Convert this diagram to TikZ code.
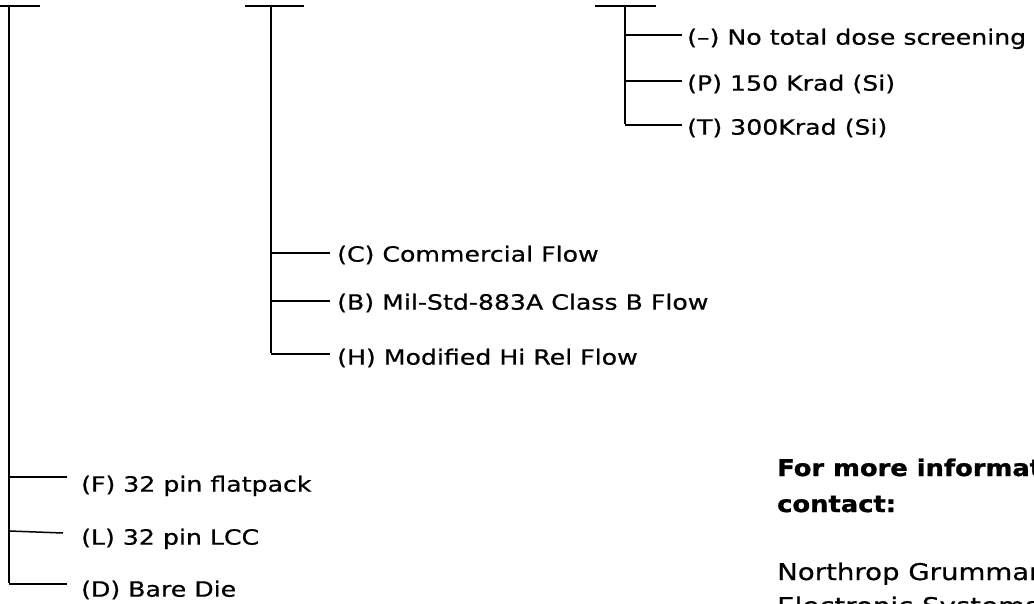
\documentclass[tikz,border=0pt]{standalone}
\usepackage{fontspec}
\setmainfont{DejaVu Sans}[FakeStretch=1.2]
\newfontfamily\lblfont{DejaVu Sans}[FakeStretch=1.2,FakeBold=0.6,Ligatures=TeX]
\newfontfamily\boldfont{DejaVu Sans}[FakeStretch=1.12,BoldFeatures={FakeBold=1.2}]
\begin{document}
\begin{tikzpicture}[x=1pt,y=-1pt,
  trunk/.style={line width=2pt,line cap=butt},
  branch/.style={line width=1.5pt},
  lbl/.style={anchor=west,inner ysep=0pt,inner xsep=0pt,text height=15.3pt,text depth=0pt,font=\lblfont\fontsize{21}{25}\selectfont},
  info/.style={anchor=base west,inner sep=0pt},
  infobold/.style={info,font=\boldfont\bfseries\fontsize{23}{27}\selectfont},
  inforeg/.style={info,font=\lblfont\fontsize{23}{27}\selectfont},
]
\useasboundingbox (0,0) rectangle (1034,603);
\clip (0,0) rectangle (1034,603);
% ---- left tree (package)
\coordinate (lbarA) at (0,6);
\coordinate (lbarB) at (40,6);
\coordinate (ltop) at (9,6);
\coordinate (lF) at (9,477);
\coordinate (lL) at (9,531);
\coordinate (lD) at (9,584);
\coordinate (eF) at (67,477);
\coordinate (eL) at (63,533);
\coordinate (eD) at (67,584);
\node[lbl] (F) at (81,484) {(F) 32 pin flatpack};
\node[lbl] (L) at (81,537) {(L) 32 pin LCC};
\node[lbl] (D) at (81,589) {(D) Bare Die};
\draw[trunk] (lbarA) -- (lbarB);
\draw[trunk] (ltop) -- ([yshift=1pt]lD);
\draw[branch] (lF) -- (eF);
\draw[branch] (lL) -- (eL);
\draw[branch] (lD) -- (eD);
% ---- middle tree (flow)
\coordinate (mbarA) at (245,6);
\coordinate (mbarB) at (304,6);
\coordinate (mtop) at (271,6);
\coordinate (mC) at (271,253);
\coordinate (mB) at (271,301);
\coordinate (mH) at (271,354);
\node[lbl] (C) at (337,254) {(C) Commercial Flow};
\node[lbl] (B) at (337,302) {(B) Mil-Std-883A Class B Flow};
\node[lbl] (H) at (337,357) {(H) Modified Hi Rel Flow};
\draw[trunk] (mbarA) -- (mbarB);
\draw[trunk] (mtop) -- ([yshift=1pt]mH);
\draw[branch] (mC) -- ([xshift=-7pt]C.west |- mC);
\draw[branch] (mB) -- ([xshift=-7pt]B.west |- mB);
\draw[branch] (mH) -- ([xshift=-7pt]H.west |- mH);
% ---- right tree (total dose)
\coordinate (rbarA) at (595,6);
\coordinate (rbarB) at (656,6);
\coordinate (rtop) at (625,6);
\coordinate (rN) at (625,35);
\coordinate (rP) at (625,81);
\coordinate (rT) at (625,125);
\node[lbl] (N) at (687,37) {(–) No total dose screening};
\node[lbl] (P) at (687,83) {(P) 150 Krad (Si)};
\node[lbl] (T) at (687,127) {(T) 300Krad (Si)};
\draw[trunk] (rbarA) -- (rbarB);
\draw[trunk] (rtop) -- ([yshift=1pt]rT);
\draw[branch] (rN) -- ([xshift=-5pt]N.west |- rN);
\draw[branch] (rP) -- ([xshift=-5pt]P.west |- rP);
\draw[branch] (rT) -- ([xshift=-5pt]T.west |- rT);
% ---- contact text
\node[infobold] (more) at (777,476) {For more information};
\node[infobold] (cont) at (777,512) {contact:};
\node[inforeg] (ng) at (777,580) {Northrop Grumman};
\node[inforeg] (es) at (777,614) {Electronic Systems};
\end{tikzpicture}
\end{document}
